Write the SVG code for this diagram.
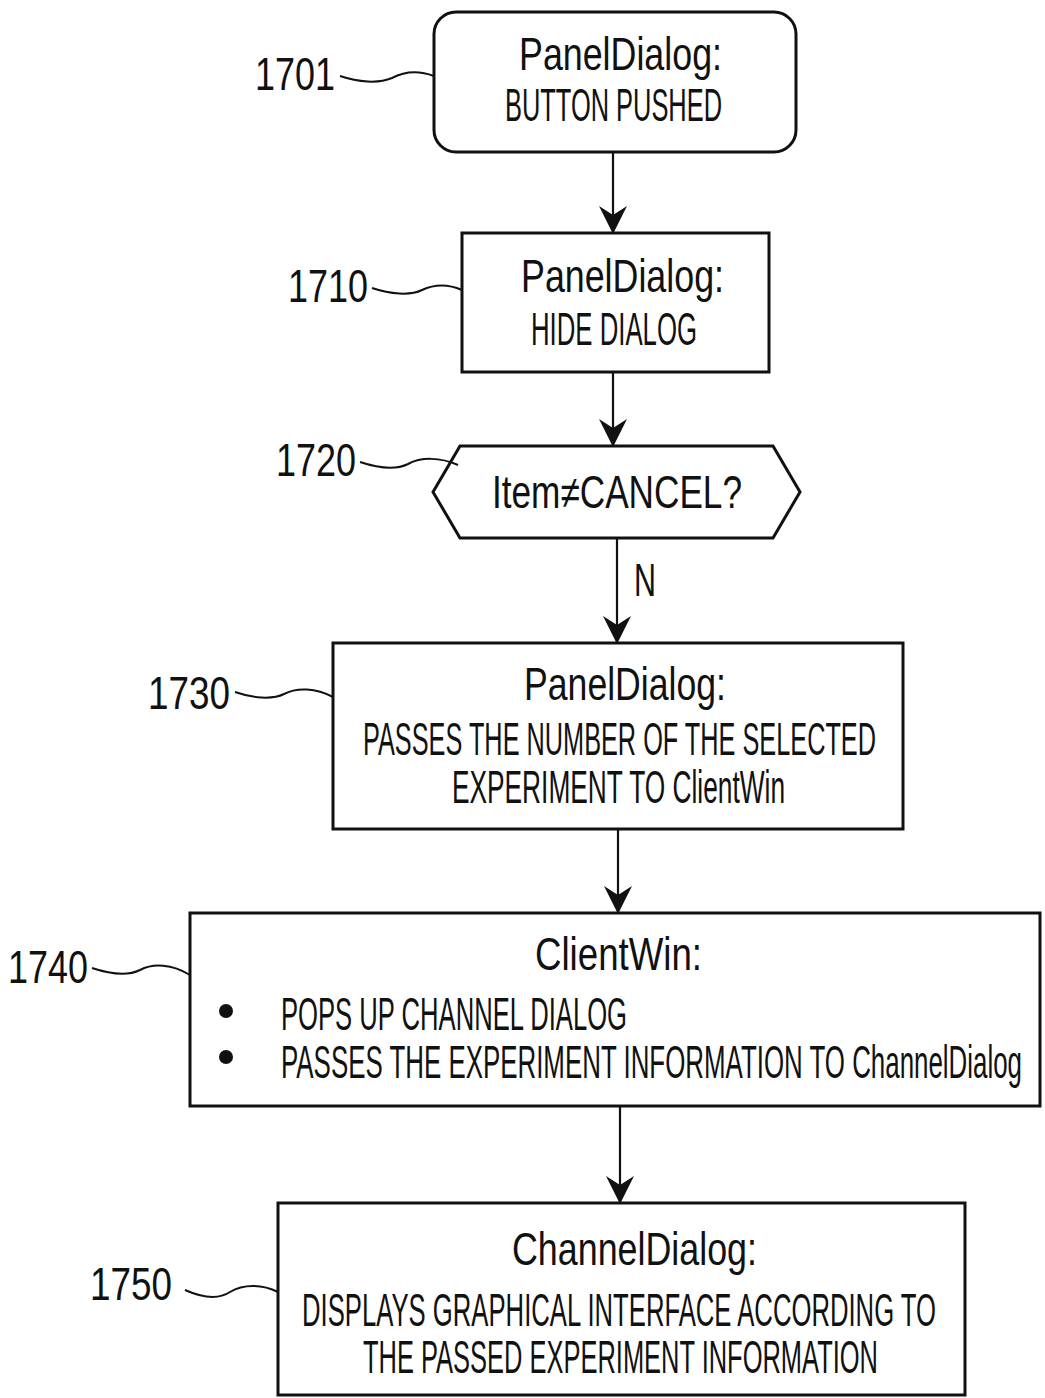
<svg xmlns="http://www.w3.org/2000/svg" width="1045" height="1398" viewBox="0 0 1045 1398">
<defs>
<marker id="ah" markerWidth="28" markerHeight="28" refX="27" refY="14" orient="auto" markerUnits="userSpaceOnUse" viewBox="0 0 28 28">
<path d="M0,0 L9,14 L0,28 L28,14 Z" fill="#111"/>
</marker>
<style>
.box{fill:#fff;stroke:#111;stroke-width:3}
.t{font-family:"Liberation Sans",Arial,sans-serif;fill:#111;font-size:46px}
.b{font-size:47px}
.lab{font-family:"Liberation Sans",Arial,sans-serif;fill:#111;font-size:46px}
.lead{fill:none;stroke:#111;stroke-width:2}
.con{fill:none;stroke:#111;stroke-width:2.2}
</style>
</defs>
<rect width="1045" height="1398" fill="#fff"/>
<g id="connectors">
<line class="con" x1="613" y1="152" x2="613" y2="233" marker-end="url(#ah)"/>
<line class="con" x1="613" y1="372" x2="613" y2="446" marker-end="url(#ah)"/>
<line class="con" x1="617" y1="538" x2="617" y2="643" marker-end="url(#ah)"/>
<text class="t" x="634" y="596" textLength="22" lengthAdjust="spacingAndGlyphs">N</text>
<line class="con" x1="618" y1="829" x2="618" y2="913" marker-end="url(#ah)"/>
<line class="con" x1="620" y1="1106" x2="620" y2="1203" marker-end="url(#ah)"/>
</g>
<g id="n1701">
<rect class="box" x="434" y="12" width="362" height="140" rx="22"/>
<text class="t" x="519" y="70" textLength="203" lengthAdjust="spacingAndGlyphs">PanelDialog:</text>
<text class="t b" x="505" y="121" textLength="217" lengthAdjust="spacingAndGlyphs">BUTTON PUSHED</text>
<text class="lab" x="255" y="90" textLength="80" lengthAdjust="spacingAndGlyphs">1701</text>
<path class="lead" d="M340,76 C358,82 378,84 392,78 C405,71 418,70 434,76"/>
</g>
<g id="n1710">
<rect class="box" x="462" y="233" width="307" height="139"/>
<text class="t" x="521" y="292" textLength="203" lengthAdjust="spacingAndGlyphs">PanelDialog:</text>
<text class="t b" x="531" y="345" textLength="166" lengthAdjust="spacingAndGlyphs">HIDE DIALOG</text>
<text class="lab" x="288" y="302" textLength="80" lengthAdjust="spacingAndGlyphs">1710</text>
<path class="lead" d="M372,288 C390,294 410,296 422,290 C435,284 448,284 462,290"/>
</g>
<g id="n1720">
<polygon class="box" points="433,492 460,446 773,446 800,492 773,538 460,538"/>
<text class="t" x="492" y="508" textLength="250" lengthAdjust="spacingAndGlyphs">Item≠CANCEL?</text>
<text class="lab" x="276" y="476" textLength="80" lengthAdjust="spacingAndGlyphs">1720</text>
<path class="lead" d="M360,462 C378,468 396,470 408,464 C421,457 440,457 458,465"/>
</g>
<g id="n1730">
<rect class="box" x="333" y="643" width="570" height="186"/>
<text class="t" x="524" y="700" textLength="202" lengthAdjust="spacingAndGlyphs">PanelDialog:</text>
<text class="t b" x="363" y="755" textLength="513" lengthAdjust="spacingAndGlyphs">PASSES THE NUMBER OF THE SELECTED</text>
<text class="t b" x="452" y="803" textLength="333" lengthAdjust="spacingAndGlyphs">EXPERIMENT TO ClientWin</text>
<text class="lab" x="148" y="709" textLength="82" lengthAdjust="spacingAndGlyphs">1730</text>
<path class="lead" d="M235,692 C252,698 272,700 284,694 C297,687 316,688 333,697"/>
</g>
<g id="n1740">
<rect class="box" x="190" y="913" width="850" height="193"/>
<text class="t" x="535" y="970" textLength="167" lengthAdjust="spacingAndGlyphs">ClientWin:</text>
<circle cx="226" cy="1011" r="7" fill="#111"/>
<circle cx="226" cy="1057" r="7" fill="#111"/>
<text class="t b" x="281" y="1030" textLength="346" lengthAdjust="spacingAndGlyphs">POPS UP CHANNEL DIALOG</text>
<text class="t b" x="281" y="1078" textLength="741" lengthAdjust="spacingAndGlyphs">PASSES THE EXPERIMENT INFORMATION TO ChannelDialog</text>
<text class="lab" x="8" y="983" textLength="80" lengthAdjust="spacingAndGlyphs">1740</text>
<path class="lead" d="M92,968 C110,974 128,976 140,970 C153,963 172,964 190,975"/>
</g>
<g id="n1750">
<rect class="box" x="278" y="1203" width="687" height="192"/>
<text class="t" x="512" y="1265" textLength="245" lengthAdjust="spacingAndGlyphs">ChannelDialog:</text>
<text class="t b" x="302" y="1326" textLength="634" lengthAdjust="spacingAndGlyphs">DISPLAYS GRAPHICAL INTERFACE ACCORDING TO</text>
<text class="t b" x="363" y="1373" textLength="515" lengthAdjust="spacingAndGlyphs">THE PASSED EXPERIMENT INFORMATION</text>
<text class="lab" x="90" y="1300" textLength="82" lengthAdjust="spacingAndGlyphs">1750</text>
<path class="lead" d="M185,1290 C203,1298 218,1300 230,1292 C243,1284 262,1284 278,1292"/>
</g>
</svg>
